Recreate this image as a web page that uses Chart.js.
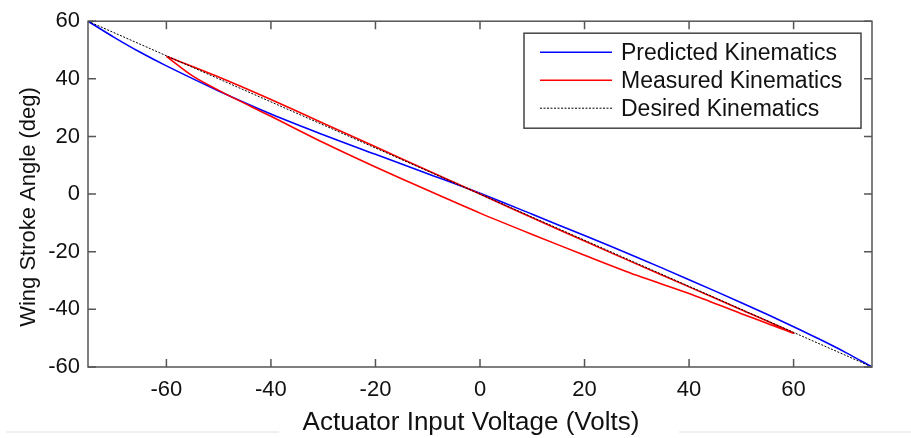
<!DOCTYPE html>
<html>
<head>
<meta charset="utf-8">
<script src="https://cdn.jsdelivr.net/npm/chart.js@4/dist/chart.umd.min.js"></script>
<style>
html,body{margin:0;padding:0;background:#ffffff;}
#wrap{width:911px;height:438px;}
</style>
</head>
<body>
<div id="wrap"><canvas id="c" width="911" height="438"></canvas></div>
<script>
// ---- data ----
const xTickValues = [-60, -40, -20, 0, 20, 40, 60];
const yTickValues = [-60, -40, -20, 0, 20, 40, 60];
const xTitle = 'Actuator Input Voltage (Volts)';
const yTitle = 'Wing Stroke Angle (deg)';

const predictedLabel = 'Predicted Kinematics';
const predictedX = [-75, -70, -65, -60, -50, -40, -30, -20, -10, 0, 10, 20, 30, 40, 50, 60, 65, 70, 75];
const predictedY = [60, 54.4, 49.2, 44.5, 35.8, 27.8, 20.6, 13.8, 7.1, 0.3, -7.0, -14.4, -21.9, -29.7, -37.7, -46.0, -50.4, -55.0, -60];

const measuredLabel = 'Measured Kinematics';
const measuredX = [-60, -50, -40, -30, -20, -10, 0, 10, 20, 30, 40, 50, 60, 55, 50, 40, 30, 20, 10, 0, -10, -20, -30, -40, -50, -55, -60];
const measuredY = [47.8, 40.6, 32.8, 24.6, 16.4, 8.2, 0, -8.2, -16.3, -24.3, -32.2, -40.1, -48.2, -44.9, -41.5, -34.5, -28.2, -21.2, -14.0, -6.6, 1.3, 9.4, 17.9, 27.0, 36.0, 41.0, 47.8];

const desiredLabel = 'Desired Kinematics';
const desiredX = [-75, 75];
const desiredY = [60, -60];

const toPts = (xs, ys) => xs.map((x, i) => ({x: x, y: ys[i]}));

const FONT = "'Liberation Sans', Arial, Helvetica, sans-serif";
const AXIS_COLOR = '#555555';

const matlabDecor = {
  id: 'matlabDecor',
  afterDraw(chart) {
    const ctx = chart.ctx;
    const {left, right, top, bottom} = chart.chartArea;
    const xs = chart.scales.x, ys = chart.scales.y;
    ctx.save();
    // box
    ctx.strokeStyle = AXIS_COLOR;
    ctx.lineWidth = 1.5;
    ctx.strokeRect(left, top, right - left, bottom - top);
    // inward ticks on all sides
    const tl = 8;
    ctx.beginPath();
    xs.ticks.forEach(t => {
      const px = xs.getPixelForValue(t.value);
      ctx.moveTo(px, bottom); ctx.lineTo(px, bottom - tl);
      ctx.moveTo(px, top); ctx.lineTo(px, top + tl);
    });
    ys.ticks.forEach(t => {
      const py = ys.getPixelForValue(t.value);
      ctx.moveTo(left, py); ctx.lineTo(left + tl, py);
      ctx.moveTo(right, py); ctx.lineTo(right - tl, py);
    });
    ctx.stroke();

    // legend box
    const bx = right - 348, by = top + 12, bw = 337, bh = 95;
    ctx.fillStyle = '#ffffff';
    ctx.fillRect(bx, by, bw, bh);
    ctx.strokeStyle = '#444444';
    ctx.lineWidth = 1.5;
    ctx.strokeRect(bx, by, bw, bh);
    ctx.font = '23px ' + FONT;
    ctx.textAlign = 'left';
    ctx.textBaseline = 'middle';
    chart.data.datasets.forEach((ds, i) => {
      const ry = by + 19 + i * 28;
      ctx.save();
      ctx.strokeStyle = ds.borderColor;
      ctx.lineWidth = ds.borderWidth;
      ctx.setLineDash(ds.borderDash || []);
      ctx.beginPath();
      ctx.moveTo(bx + 16, ry); ctx.lineTo(bx + 88, ry);
      ctx.stroke();
      ctx.restore();
      ctx.fillStyle = '#111111';
      ctx.fillText(ds.label, bx + 97, ry + 1);
    });

    // axis titles
    ctx.fillStyle = '#111111';
    ctx.textAlign = 'center';
    ctx.textBaseline = 'alphabetic';
    ctx.font = '26px ' + FONT;
    ctx.fillText(xTitle, 471, 430);
    ctx.save();
    ctx.translate(35, 207);
    ctx.rotate(-Math.PI / 2);
    ctx.font = '22px ' + FONT;
    ctx.fillText(yTitle, 0, 0);
    ctx.restore();

    // faint page rule at the bottom
    ctx.strokeStyle = '#e2e2e2';
    ctx.lineWidth = 1;
    ctx.beginPath();
    ctx.moveTo(6, 432); ctx.lineTo(279, 432);
    ctx.moveTo(679, 432); ctx.lineTo(911, 432);
    ctx.stroke();
    ctx.restore();
  }
};

new Chart(document.getElementById('c'), {
  type: 'scatter',
  data: {
    datasets: [
      {label: predictedLabel, data: toPts(predictedX, predictedY), showLine: true,
       borderColor: '#0000ff', backgroundColor: '#0000ff', borderWidth: 1.6, pointRadius: 0, tension: 0.35, order: 3},
      {label: measuredLabel, data: toPts(measuredX, measuredY), showLine: true,
       borderColor: '#ff0000', backgroundColor: '#ff0000', borderWidth: 1.6, pointRadius: 0, tension: 0.3, order: 2},
      {label: desiredLabel, data: toPts(desiredX, desiredY), showLine: true,
       borderColor: '#000000', backgroundColor: '#000000', borderWidth: 1, borderDash: [2, 1.5], pointRadius: 0, tension: 0, order: 1}
    ]
  },
  options: {
    responsive: false,
    animation: false,
    devicePixelRatio: 1,
    layout: {padding: {top: 20, right: 39, left: 0, bottom: 0}},
    plugins: {legend: {display: false}, tooltip: {enabled: false}},
    scales: {
      x: {
        type: 'linear', min: -75, max: 75,
        afterBuildTicks: s => { s.ticks = xTickValues.map(v => ({value: v})); },
        afterFit: s => { s.height = 71; },
        grid: {display: false, drawTicks: false},
        border: {display: false},
        ticks: {color: '#111111', font: {family: FONT, size: 22}, padding: 10, maxRotation: 0, autoSkip: false,
                callback: v => String(v)},
        title: {display: false, text: xTitle}
      },
      y: {
        type: 'linear', min: -60, max: 60,
        afterBuildTicks: s => { s.ticks = yTickValues.map(v => ({value: v})); },
        afterFit: s => { s.width = 88; },
        grid: {display: false, drawTicks: false},
        border: {display: false},
        ticks: {color: '#111111', font: {family: FONT, size: 22}, padding: 8, autoSkip: false,
                callback: v => String(v)},
        title: {display: false, text: yTitle}
      }
    }
  },
  plugins: [matlabDecor]
});
</script>
</body>
</html>
